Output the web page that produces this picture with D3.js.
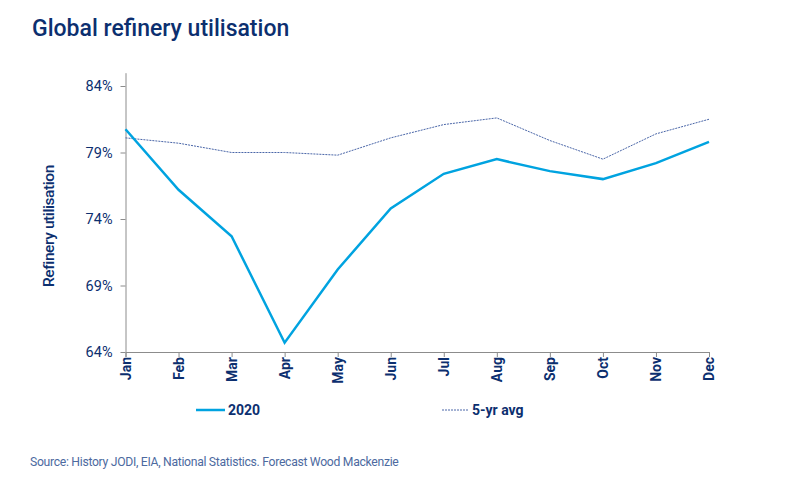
<!DOCTYPE html>
<html>
<head>
<meta charset="utf-8">
<script src="https://cdn.jsdelivr.net/npm/d3@7"></script>
<style>
  body { margin: 0; background: #fff; }
  text { font-family: Roboto, "Noto Sans", sans-serif; }
</style>
</head>
<body>
<svg id="chart" width="800" height="480"></svg>
<script>
const months = ["Jan", "Feb", "Mar", "Apr", "May", "Jun", "Jul", "Aug", "Sep", "Oct", "Nov", "Dec"];
const util2020 = [80.75, 76.2, 72.7, 64.7, 70.2, 74.8, 77.4, 78.5, 77.6, 77.0, 78.2, 79.8];
const avg5yr = [80.1, 79.7, 79.0, 79.0, 78.8, 80.1, 81.1, 81.6, 79.9, 78.5, 80.4, 81.5];
const yTicks = [64, 69, 74, 79, 84];

const navy = "#0c2f6f";
const svg = d3.select("#chart");

const x = d3.scalePoint().domain(months).range([125.5, 709]);
const y = d3.scaleLinear().domain([64, 85]).range([352, 72.7]);

// title
svg.append("text")
    .attr("x", 32).attr("y", 36)
    .attr("font-size", 23).attr("font-weight", 500)
    .attr("fill", navy)
    .text("Global refinery utilisation");

// axes
const xAxis = svg.append("g")
    .attr("transform", "translate(0,352)")
    .call(d3.axisBottom(x).tickSize(5).tickPadding(4));
xAxis.select(".domain").attr("stroke", "#8c8c8c");
xAxis.selectAll(".tick line").attr("stroke", "#8c8c8c");
xAxis.selectAll(".tick text")
    .attr("transform", "rotate(-90)")
    .attr("text-anchor", "end")
    .attr("x", -5).attr("y", 0).attr("dy", "0.35em")
    .attr("font-size", 14).attr("font-weight", 700)
    .attr("fill", navy);

const yAxis = svg.append("g")
    .attr("transform", "translate(125.5,0)")
    .call(d3.axisLeft(y).tickValues(yTicks).tickFormat(d => d + "%").tickSize(5).tickPadding(8).tickSizeOuter(0));
yAxis.select(".domain").attr("stroke", "#8c8c8c");
yAxis.selectAll(".tick line").attr("stroke", "#8c8c8c");
yAxis.selectAll(".tick text")
    .attr("font-size", 14.5)
    .attr("fill", navy);

// y axis title
svg.append("text")
    .attr("transform", "translate(54,226) rotate(-90)")
    .attr("text-anchor", "middle")
    .attr("font-size", 15.5).attr("font-weight", 500)
    .attr("letter-spacing", -0.4)
    .attr("fill", navy)
    .text("Refinery utilisation");

// lines
const line = d3.line().x((d, i) => x(months[i])).y(d => y(d));

svg.append("path")
    .datum(avg5yr)
    .attr("d", line)
    .attr("fill", "none")
    .attr("stroke", "#4a66a8")
    .attr("stroke-width", 1)
    .attr("stroke-dasharray", "2,1");

svg.append("path")
    .datum(util2020)
    .attr("d", line)
    .attr("fill", "none")
    .attr("stroke", "#00a3e0")
    .attr("stroke-width", 2.5);

// legend
const legend = svg.append("g");
legend.append("line")
    .attr("x1", 196).attr("x2", 225).attr("y1", 410).attr("y2", 410)
    .attr("stroke", "#00a3e0").attr("stroke-width", 2.5);
legend.append("text")
    .attr("x", 228).attr("y", 415)
    .attr("font-size", 14).attr("font-weight", 700).attr("fill", navy)
    .text("2020");
legend.append("line")
    .attr("x1", 442).attr("x2", 469).attr("y1", 410).attr("y2", 410)
    .attr("stroke", "#4a66a8").attr("stroke-width", 1).attr("stroke-dasharray", "2,1");
legend.append("text")
    .attr("x", 472).attr("y", 415)
    .attr("font-size", 14).attr("font-weight", 700).attr("fill", navy)
    .text("5-yr avg");

// source
svg.append("text")
    .attr("x", 30).attr("y", 466)
    .attr("font-size", 12.2)
    .attr("fill", "#4d6aa0")
    .attr("letter-spacing", -0.3)
    .text("Source: History JODI, EIA, National Statistics. Forecast Wood Mackenzie");
</script>
</body>
</html>
